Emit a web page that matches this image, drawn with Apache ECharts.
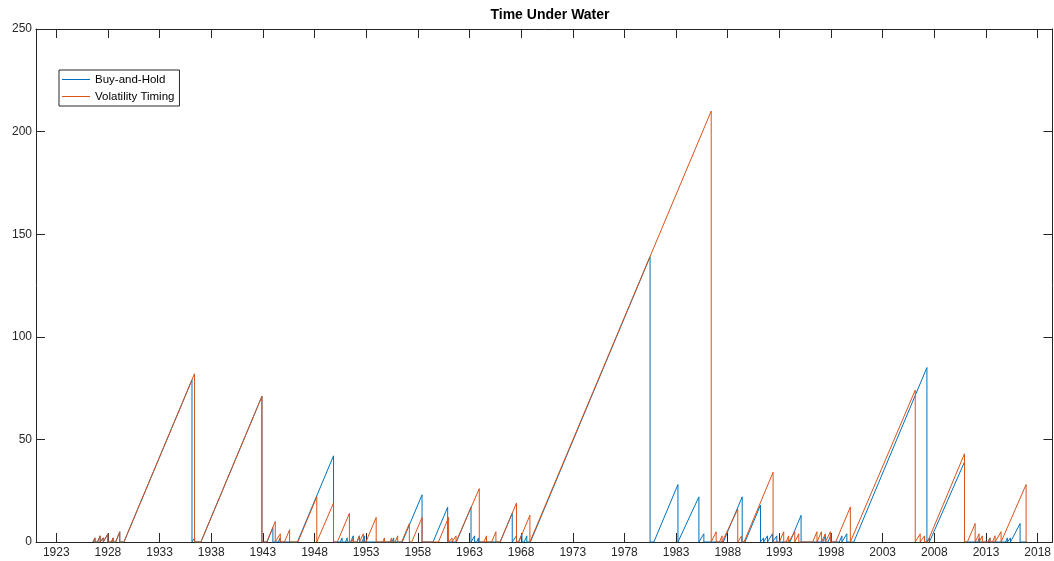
<!DOCTYPE html>
<html>
<head>
<meta charset="utf-8">
<script src="https://cdn.jsdelivr.net/npm/echarts@6/dist/echarts.min.js"></script>
<style>
  html, body { margin: 0; padding: 0; background: #fff; }
  #chart { width: 1054px; height: 561px; }
</style>
</head>
<body>
<div id="chart"></div>
<script>
// Months spent below the previous high-water mark, monthly data 1926-2016.
// Each list holds the vertices of the sawtooth: [year, months under water].
const yearTicks = [1923, 1928, 1933, 1938, 1943, 1948, 1953, 1958, 1963, 1968,
                   1973, 1978, 1983, 1988, 1993, 1998, 2003, 2008, 2013, 2018];

const buyHold = [
  [1926.55,0],
  [1926.6,0],[1926.75,2],[1926.75,0],
  [1927.0,0],[1927.25,3],[1927.25,0],
  [1927.4,0],[1927.55,2],[1927.55,0],
  [1927.7,0],[1928.0,4],[1928.0,0],
  [1928.35,0],[1928.5,2],[1928.5,0],
  [1928.75,0],[1929.15,5],[1929.15,0],
  [1929.55,0],[1936.14,79],[1936.14,0],
  [1936.2,0],[1936.4,2],[1936.4,0],
  [1937.0,0],[1942.91,71],[1942.91,0],
  [1943.4,0],[1943.97,7],[1943.97,0],
  [1944.5,0],[1944.67,2],[1944.67,0],
  [1946.34,0],[1949.84,42],[1949.84,0],
  [1950.5,0],[1950.67,2],[1950.67,0],
  [1951.0,0],[1951.17,2],[1951.17,0],
  [1951.5,0],[1951.75,3],[1951.75,0],
  [1952.1,0],[1952.35,3],[1952.35,0],
  [1952.6,0],[1952.85,3],[1952.85,0],
  [1955.5,0],[1955.67,2],[1955.67,0],
  [1956.49,0],[1958.41,23],[1958.41,0],
  [1959.47,0],[1960.89,17],[1960.89,0],
  [1961.73,0],[1963.15,17],[1963.15,0],
  [1963.25,0],[1963.5,3],[1963.5,0],
  [1963.7,0],[1963.87,2],[1963.87,0],
  [1965.97,0],[1967.14,14],[1967.14,0],
  [1967.3,0],[1967.55,3],[1967.55,0],
  [1967.75,0],[1968.08,4],[1968.08,0],
  [1968.3,0],[1968.55,3],[1968.55,0],
  [1968.9,0],[1980.48,139],[1980.48,0],
  [1980.85,0],[1983.18,28],[1983.18,0],
  [1983.37,0],[1985.21,22],[1985.21,0],
  [1985.36,0],[1985.69,4],[1985.69,0],
  [1987.57,0],[1989.4,22],[1989.4,0],
  [1989.67,0],[1991.17,18],[1991.17,0],
  [1991.3,0],[1991.47,2],[1991.47,0],
  [1991.6,0],[1991.85,3],[1991.85,0],
  [1992.0,0],[1992.33,4],[1992.33,0],
  [1992.5,0],[1992.75,3],[1992.75,0],
  [1994.02,0],[1995.1,13],[1995.1,0],
  [1997.2,0],[1997.45,3],[1997.45,0],
  [1997.7,0],[1998.03,4],[1998.03,0],
  [1998.8,0],[1999.05,3],[1999.05,0],
  [1999.2,0],[1999.53,4],[1999.53,0],
  [2000.2,0],[2007.28,85],[2007.28,0],
  [2007.35,0],[2007.52,2],[2007.52,0],
  [2007.67,0],[2010.92,39],[2010.92,0],
  [2012.2,0],[2012.37,2],[2012.37,0],
  [2013.2,0],[2013.37,2],[2013.37,0],
  [2014.9,0],[2015.07,2],[2015.07,0],
  [2015.2,0],[2015.37,2],[2015.37,0],
  [2015.55,0],[2016.3,9],[2016.3,0],
  [2016.95,0]
];

const volTiming = [
  [1926.55,0],
  [1926.6,0],[1926.75,2],[1926.75,0],
  [1927.0,0],[1927.25,3],[1927.25,0],
  [1927.4,0],[1927.55,2],[1927.55,0],
  [1927.7,0],[1928.0,4],[1928.0,0],
  [1928.35,0],[1928.5,2],[1928.5,0],
  [1928.75,0],[1929.15,5],[1929.15,0],
  [1929.55,0],[1936.38,82],[1936.38,0],
  [1937.0,0],[1942.91,71],[1942.91,0],
  [1943.37,0],[1944.2,10],[1944.2,0],
  [1944.36,0],[1944.69,4],[1944.69,0],
  [1945.09,0],[1945.59,6],[1945.59,0],
  [1946.39,0],[1948.22,22],[1948.22,0],
  [1948.26,0],[1949.84,19],[1949.84,0],
  [1950.21,0],[1951.38,14],[1951.38,0],
  [1951.6,0],[1951.77,2],[1951.77,0],
  [1952.1,0],[1952.35,3],[1952.35,0],
  [1952.4,0],[1952.73,4],[1952.73,0],
  [1952.97,0],[1953.97,12],[1953.97,0],
  [1954.6,0],[1954.77,2],[1954.77,0],
  [1955.3,0],[1955.47,2],[1955.47,0],
  [1955.8,0],[1956.05,3],[1956.05,0],
  [1956.43,0],[1957.18,9],[1957.18,0],
  [1957.41,0],[1958.41,12],[1958.41,0],
  [1960.0,0],[1960.98,12],[1960.98,0],
  [1961.15,0],[1961.32,2],[1961.32,0],
  [1961.45,0],[1961.7,3],[1961.7,0],
  [1961.78,0],[1963.95,26],[1963.95,0],
  [1964.4,0],[1964.65,3],[1964.65,0],
  [1965.14,0],[1965.56,5],[1965.56,0],
  [1965.97,0],[1967.55,19],[1967.55,0],
  [1967.77,0],[1968.85,13],[1968.85,0],
  [1968.9,0],[1986.4,210],[1986.4,0],
  [1986.45,0],[1986.88,5],[1986.88,0],
  [1987.2,0],[1987.45,3],[1987.45,0],
  [1987.62,0],[1988.97,16],[1988.97,0],
  [1989.1,0],[1989.35,3],[1989.35,0],
  [1989.57,0],[1992.39,34],[1992.39,0],
  [1993.0,0],[1993.42,5],[1993.42,0],
  [1993.65,0],[1993.9,3],[1993.9,0],
  [1994.07,0],[1994.49,5],[1994.49,0],
  [1994.55,0],[1994.88,4],[1994.88,0],
  [1996.22,0],[1996.64,5],[1996.64,0],
  [1996.66,0],[1997.07,5],[1997.07,0],
  [1997.1,0],[1997.45,4],[1997.45,0],
  [1997.5,0],[1997.94,5],[1997.94,0],
  [1998.45,0],[1999.87,17],[1999.87,0],
  [2000.0,0],[2006.15,74],[2006.15,0],
  [2006.3,0],[2006.63,4],[2006.63,0],
  [2006.8,0],[2007.05,3],[2007.05,0],
  [2007.34,0],[2010.92,43],[2010.92,0],
  [2011.2,0],[2011.95,9],[2011.95,0],
  [2012.0,0],[2012.33,4],[2012.33,0],
  [2012.4,0],[2012.65,3],[2012.65,0],
  [2013.2,0],[2013.4,2],[2013.4,0],
  [2013.63,0],[2013.88,3],[2013.88,0],
  [2014.05,0],[2014.46,5],[2014.46,0],
  [2014.55,0],[2016.88,28],[2016.88,0],
  [2016.95,0]
];

const xMin = 1921.04, xMax = 2019.43;
const axisColor = '#262626';
const fontFamily = '"Liberation Sans", Arial, Helvetica, sans-serif';

const chart = echarts.init(document.getElementById('chart'), null, { renderer: 'canvas' });

const baseX = {
  type: 'value', min: xMin, max: xMax,
  axisLine: { show: true, onZero: false, lineStyle: { color: axisColor, width: 1 } },
  axisTick: { show: true, inside: true, length: 9, customValues: yearTicks,
              lineStyle: { color: axisColor, width: 1 } },
  splitLine: { show: false }
};
const baseY = {
  type: 'value', min: 0, max: 250, interval: 50,
  axisLine: { show: true, onZero: false, lineStyle: { color: axisColor, width: 1 } },
  axisTick: { show: true, inside: true, length: 9, lineStyle: { color: axisColor, width: 1 } },
  splitLine: { show: false }
};

chart.setOption({
  animation: false,
  backgroundColor: '#ffffff',
  title: {
    text: 'Time Under Water',
    left: 545, top: 3, textAlign: 'center',
    textStyle: { fontSize: 14, fontWeight: 'bold', color: '#000', fontFamily: fontFamily }
  },
  legend: {
    orient: 'vertical', left: 59, top: 70,
    padding: [3, 5, 3, 3],
    itemGap: 4, itemWidth: 28, itemHeight: 1,
    icon: 'rect',
    borderColor: axisColor, borderWidth: 1, backgroundColor: '#fff',
    textStyle: { fontSize: 11.5, lineHeight: 13, color: '#000', fontFamily: fontFamily },
    data: ['Buy-and-Hold', 'Volatility Timing']
  },
  grid: { left: 36, top: 29, right: 0, bottom: 19, containLabel: false },
  xAxis: [
    Object.assign({}, baseX, {
      position: 'bottom',
      axisLabel: { show: true, customValues: yearTicks, margin: 5, fontSize: 12,
                   color: axisColor, fontFamily: fontFamily,
                   formatter: v => String(Math.round(v)) }
    }),
    Object.assign({}, baseX, { position: 'top', axisLabel: { show: false } })
  ],
  yAxis: [
    Object.assign({}, baseY, {
      position: 'left',
      axisLabel: { show: true, margin: 4, fontSize: 12, color: axisColor, fontFamily: fontFamily }
    }),
    Object.assign({}, baseY, { position: 'right', axisLabel: { show: false } })
  ],
  series: [
    {
      name: 'Buy-and-Hold', type: 'line', xAxisIndex: 0, yAxisIndex: 0,
      data: buyHold, showSymbol: false, symbol: 'none',
      lineStyle: { color: '#0072BD', width: 1 }, itemStyle: { color: '#0072BD' }
    },
    {
      name: 'Volatility Timing', type: 'line', xAxisIndex: 0, yAxisIndex: 0,
      data: volTiming, showSymbol: false, symbol: 'none',
      lineStyle: { color: '#D95319', width: 1 }, itemStyle: { color: '#D95319' }
    }
  ]
});
</script>
</body>
</html>
